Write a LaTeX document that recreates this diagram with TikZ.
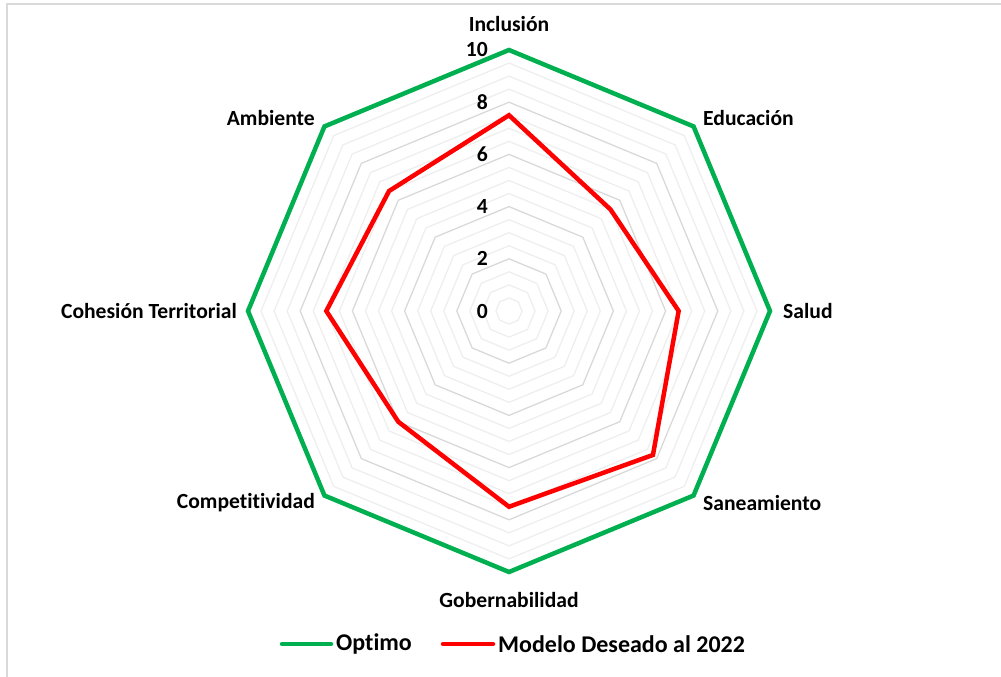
\documentclass[tikz,border=0pt]{standalone}
\usepackage{fontspec}
\setmainfont{Carlito}[Ligatures={NoCommon}]
\usepackage{tikz}
\definecolor{optgreen}{RGB}{0,176,80}
\definecolor{gridmajor}{RGB}{217,217,217}
\definecolor{gridminor}{RGB}{238,238,238}
\definecolor{framegray}{RGB}{217,217,217}

\begin{document}
\begin{tikzpicture}[x=1pt, y=1pt, every node/.style={font=\bfseries\fontsize{21.6}{26}\selectfont, inner sep=0pt}]
  \useasboundingbox (0,0) rectangle (1001,677);
  \draw[framegray, line width=1.5pt] (7,0) |- (1001,673);
  \coordinate (O) at (509,366);
  % rejilla (cada 0.5)
  \begin{scope}[shift={(O)}]
    \foreach \k in {1,...,20} {
      \pgfmathsetmacro{\rr}{\k*13.05}
      \pgfmathparse{mod(\k,4)==0 ? 1 : 0}
      \ifnum\pgfmathresult=1
        \def\gc{gridmajor}
      \else
        \def\gc{gridminor}
      \fi
      \draw[\gc, line width=1.3pt] (90:\rr) -- (45:\rr) -- (0:\rr) -- (-45:\rr) -- (-90:\rr) -- (-135:\rr) -- (180:\rr) -- (135:\rr) -- cycle;
    }
    % Optimo
    \draw[optgreen, line width=4.5pt] (90:261) -- (45:261) -- (0:261) -- (-45:261) -- (-90:261) -- (-135:261) -- (180:261) -- (135:261) -- cycle;
    % Modelo Deseado al 2022
    \draw[red, line width=4.5pt] (90:7.5*26.1) -- (45:5.5*26.1) -- (0:6.5*26.1) -- (-45:7.8*26.1) -- (-90:7.5*26.1) -- (-135:6*26.1) -- (180:7*26.1) -- (135:6.5*26.1) -- cycle;
  \end{scope}
  % escala
  \foreach \v in {0,2,...,10}
    \node[anchor=east] (s\v) at (488, 366+\v*26.1) {\v};
  % ejes
  \node (incl) at (509,653) {Inclusión};
  \node[anchor=west] (educ) at (703,559) {Educación};
  \node[anchor=west] (salud) at (783,366) {Salud};
  \node[anchor=west] (sane) at (703,174) {Saneamiento};
  \node (gob) at (509,77) {Gobernabilidad};
  \node[anchor=east] (comp) at (315,174) {Competitividad};
  \node[anchor=east] (cohe) at (237,366) {Cohesión Territorial};
  \node[anchor=east] (amb) at (315,559) {Ambiente};
  % leyenda
  \tikzset{legtext/.style={anchor=west, font=\bfseries\fontsize{24}{28}\selectfont}}
  \coordinate (g1) at (282,33);
  \node[legtext] (lopt) at (336,33) {Optimo};
  \draw[optgreen, line width=4.5pt, line cap=round, shorten >=5pt] (g1) -- (lopt.west);
  \coordinate (r1) at (443,33);
  \node[legtext] (lmod) at (498,33) {Modelo Deseado al 2022};
  \draw[red, line width=4.5pt, line cap=round, shorten >=5pt] (r1) -- (lmod.west);
\end{tikzpicture}
\end{document}
